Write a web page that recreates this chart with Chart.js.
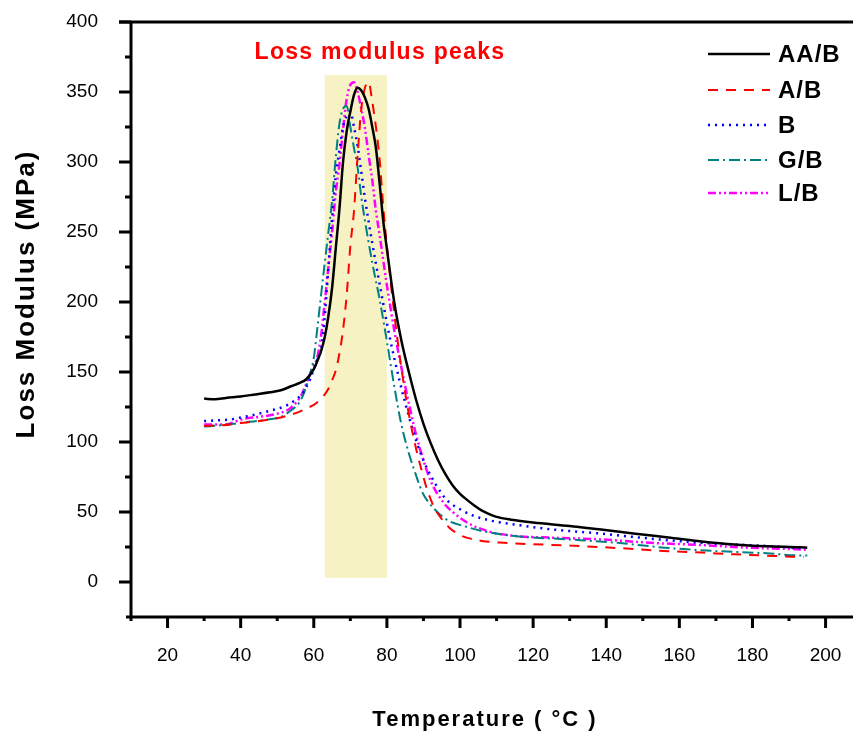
<!DOCTYPE html>
<html>
<head>
<meta charset="utf-8">
<script src="https://cdn.jsdelivr.net/npm/chart.js@4.4.1/dist/chart.umd.min.js"></script>
<style>
  html, body { margin: 0; padding: 0; background: #fff; }
</style>
</head>
<body>
<canvas id="chart" width="853" height="740"></canvas>
<script>
// ----- data -----
const seriesNames = ["AA/B", "A/B", "B", "G/B", "L/B"];

const tempAAB = [30, 33, 36, 40, 44, 48, 51, 54, 56, 58, 60, 61, 62, 63, 64, 65, 66, 67, 68, 69, 70, 71, 72, 73, 74, 75, 76, 77, 78, 79, 80, 82, 84, 86, 88, 90, 92, 94, 96, 98, 100, 102, 104, 106, 108, 110, 114, 120, 130, 138, 148, 157, 166, 175, 184, 193, 195];
const modAAB  = [131, 130.5, 131.5, 132.5, 134, 135.5, 137, 140, 142, 145, 152, 158, 165, 175, 190, 210, 238, 266, 300, 322, 336, 348, 353, 351, 346, 338, 325, 310, 285, 258, 238, 200, 172, 150, 130, 113, 99, 87, 77, 69, 63, 58.5, 54.5, 51, 48.5, 46.5, 44.5, 42.5, 40, 37.6, 34.5, 31.8, 29, 26.8, 25.5, 24.8, 24.5];

const tempAB = [30, 35, 40, 45, 50, 53, 56, 58, 60, 62, 63, 64, 65, 66, 67, 68, 69, 70, 71, 72, 73, 74, 75, 76, 77, 78, 79, 80, 82, 84, 86, 88, 90, 91, 93, 95, 97, 100, 102, 106, 112, 120, 130, 138, 148, 157, 166, 175, 184, 191, 194];
const modAB  = [111.5, 112, 113.5, 115, 117, 119, 121.5, 124, 126.5, 131, 134, 138, 144, 151, 163, 180, 205, 240, 265, 305, 338, 353, 357, 343, 325, 302, 268, 240, 192, 152, 120, 95, 75, 66, 53, 45, 39, 33.5, 31.5, 29.3, 28, 27, 26, 25, 23.5, 22, 21, 19.8, 18.8, 18.1, 18];

const tempB = [30, 34, 37, 40, 43, 46, 49, 52, 55, 57, 59, 60, 61, 62, 63, 64, 65, 66, 67, 68, 69, 70, 71, 72, 73, 74, 76, 78, 80, 82, 85, 88, 90, 92, 95, 97, 100, 103, 109, 115, 125, 138, 152, 166, 184, 194];
const modB  = [115, 115.5, 116, 117.5, 119, 121, 123, 125.5, 130, 135, 145, 152, 159, 166, 190, 225, 260, 290, 308, 325, 333, 336, 325, 311, 293, 274, 242, 213, 185, 160, 128, 101, 87, 76, 63, 57, 52, 48, 43.5, 41, 37.6, 34.7, 31, 28, 25.7, 24];

const tempGB = [30, 35, 40, 46, 51, 54, 56, 57, 58, 59, 60, 61, 62, 63, 64, 65, 66, 67, 68, 69, 70, 71, 72, 73, 74, 76, 78, 80, 82, 84, 86, 88, 89, 90, 91.5, 94.5, 97, 101, 106, 115, 129, 143, 156, 170, 184, 193, 195];
const modGB  = [111, 112, 113.7, 115.6, 118, 123, 128, 133, 140, 149, 160, 182, 205, 228, 250, 272, 303, 327, 338, 340, 325, 310, 296, 275, 258, 228, 202, 172, 140, 112, 92, 76, 68.5, 62.5, 56.6, 48.3, 43.5, 40, 36.4, 32.8, 30.5, 28, 24.5, 22.1, 20.5, 19, 19];

const tempLB = [30, 35, 37, 40, 45, 49, 53.5, 56.5, 58, 59.5, 61, 62, 63, 64, 65, 66, 67, 68, 69, 70, 71, 72, 73, 74, 75, 76, 77, 78, 80, 82, 85, 88, 90, 92, 95.5, 98, 102, 108, 115.5, 125, 138, 152, 166, 179, 193, 195];
const modLB  = [112.5, 112.5, 113, 116, 118, 119.6, 124, 133, 142, 152, 161, 176, 200, 225, 250, 278, 298, 323, 345, 355, 357, 350, 338, 324, 305, 287, 265, 248, 212, 180, 140, 105, 87, 72, 56.6, 50, 42.4, 36, 32.8, 31.7, 30.5, 28, 26.4, 24.5, 23.3, 23];

// shaded "peaks" band
const shadeTemp = [63, 80];
const shadeMod = [3, 362];

// axes
const xMin = 10, xMax = 207.5;
const yMin = -25, yMax = 400;

// ----- styles -----
const colors = ["#000000", "#ff0000", "#0000ff", "#008080", "#ff00ff"];
const dashes = [[], [10, 8], [2, 5], [11, 4, 2, 4], [8, 3, 2, 3, 2, 3]];
const widths = [2.5, 2, 2.5, 2, 2.5];
const temps = [tempAAB, tempAB, tempB, tempGB, tempLB];
const mods = [modAAB, modAB, modB, modGB, modLB];

const FONT = "'Liberation Sans', Arial, sans-serif";
Chart.defaults.font.family = FONT;
Chart.defaults.color = "#000";

const datasets = seriesNames.map((name, i) => ({
    label: name,
    data: temps[i].map((t, k) => ({ x: t, y: mods[i][k] })),
    borderColor: colors[i],
    borderWidth: widths[i],
    borderDash: dashes[i],
    pointRadius: 0,
    fill: false,
    cubicInterpolationMode: "monotone"
}));

// ----- drawing of frame, ticks, titles, legend -----
const decor = {
    id: "decor",
    beforeDatasetsDraw(chart) {
        const { ctx, scales: { x, y } } = chart;
        const x0 = x.getPixelForValue(shadeTemp[0]);
        const x1 = x.getPixelForValue(shadeTemp[1]);
        const y0 = y.getPixelForValue(shadeMod[1]);
        const y1 = y.getPixelForValue(shadeMod[0]);
        ctx.save();
        ctx.fillStyle = "#f6f2c3";
        ctx.fillRect(x0, y0, x1 - x0, y1 - y0);
        ctx.restore();
    },
    afterDraw(chart) {
        const { ctx, chartArea: a, scales: { x, y } } = chart;
        ctx.save();
        ctx.strokeStyle = "#000";
        ctx.lineWidth = 3;
        ctx.lineCap = "butt";

        // frame lines
        ctx.beginPath();
        ctx.moveTo(a.left, a.top); ctx.lineTo(a.left, a.bottom + 1.5);
        ctx.moveTo(a.left - 12, a.top); ctx.lineTo(chart.width, a.top);
        ctx.moveTo(a.left - 5, a.bottom); ctx.lineTo(chart.width, a.bottom);
        ctx.stroke();

        // y ticks
        ctx.beginPath();
        y.ticks.forEach(t => {
            if (t.value < 0) return;
            const py = y.getPixelForValue(t.value);
            const len = t.value % 50 === 0 ? 12 : 6;
            ctx.moveTo(a.left - len, py); ctx.lineTo(a.left, py);
        });
        // x ticks
        x.ticks.forEach(t => {
            if (t.value > 200 || t.value % 10 !== 0) return;
            const px = x.getPixelForValue(t.value);
            const len = t.value % 20 === 0 ? 11 : 4;
            ctx.moveTo(px, a.bottom); ctx.lineTo(px, a.bottom + len);
        });
        ctx.stroke();

        // axis titles
        ctx.fillStyle = "#000";
        ctx.textAlign = "center";
        ctx.textBaseline = "middle";
        ctx.font = "bold 22px " + FONT;
        ctx.letterSpacing = "2px";
        ctx.fillText("Temperature ( °C )", 485, 720);

        ctx.save();
        ctx.translate(27, 294);
        ctx.rotate(-Math.PI / 2);
        ctx.font = "bold 26px " + FONT;
        ctx.letterSpacing = "2px";
        ctx.fillText("Loss Modulus (MPa)", 0, 0);
        ctx.restore();

        // band label
        ctx.fillStyle = "#ff0000";
        ctx.font = "bold 23px " + FONT;
        ctx.letterSpacing = "1.3px";
        ctx.fillText("Loss modulus peaks", 380, 53);

        // legend
        const legendY = [54, 90, 125, 160, 193];
        ctx.textAlign = "left";
        ctx.font = "bold 24px " + FONT;
        ctx.letterSpacing = "1px";
        seriesNames.forEach((name, i) => {
            ctx.strokeStyle = colors[i];
            ctx.lineWidth = widths[i];
            ctx.setLineDash(dashes[i]);
            ctx.beginPath();
            ctx.moveTo(708, legendY[i]); ctx.lineTo(770, legendY[i]);
            ctx.stroke();
            ctx.setLineDash([]);
            ctx.fillStyle = "#000";
            ctx.fillText(name, 778, legendY[i] + 1);
        });
        ctx.restore();
    }
};

new Chart(document.getElementById("chart"), {
    type: "line",
    data: { datasets: datasets },
    plugins: [decor],
    options: {
        responsive: false,
        animation: false,
        devicePixelRatio: 1,
        layout: { padding: { top: 22, right: 0, left: 0, bottom: 0 } },
        plugins: { legend: { display: false }, tooltip: { enabled: false } },
        scales: {
            x: {
                type: "linear",
                min: xMin, max: xMax,
                grid: { display: false, drawTicks: false },
                border: { display: false },
                ticks: {
                    stepSize: 10,
                    includeBounds: false,
                    autoSkip: false,
                    maxRotation: 0,
                    padding: 27,
                    font: { size: 19 },
                    callback: v => (v % 20 === 0 && v <= 200 ? v : "")
                },
                afterFit: s => { s.height = 123; s.paddingLeft = 0; s.paddingRight = 0; }
            },
            y: {
                type: "linear",
                min: yMin, max: yMax,
                grid: { display: false, drawTicks: false },
                border: { display: false },
                ticks: {
                    stepSize: 25,
                    includeBounds: false,
                    autoSkip: false,
                    padding: 33,
                    font: { size: 19 },
                    callback: v => (v % 50 === 0 && v >= 0 ? v : "")
                },
                afterFit: s => { s.width = 131; s.paddingTop = 0; s.paddingBottom = 0; }
            }
        }
    }
});
</script>
</body>
</html>
